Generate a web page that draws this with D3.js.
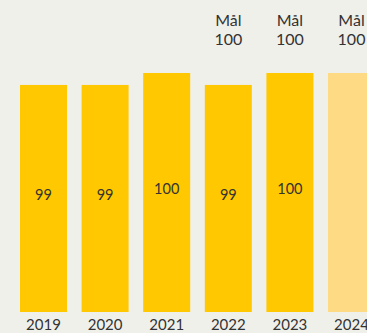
<!DOCTYPE html>
<html>
<head>
<meta charset="utf-8">
<script src="https://cdn.jsdelivr.net/npm/d3@7"></script>
<style>
  html, body { margin: 0; padding: 0; background: #f0f0eb; }
  svg { display: block; }
  text { font-family: Lato, "Open Sans", sans-serif; fill: #333; }
</style>
</head>
<body>
<svg id="chart" width="367" height="333"></svg>
<script>
// Index per year; the last year is the target only
const years = ["2019", "2020", "2021", "2022", "2023", "2024"];
const values = [99, 99, 100, 99, 100, 100];
const isTarget = [false, false, false, false, false, true];
// Target ("Mål") per year, shown above the bar where set
const targets = [null, null, null, 100, 100, 100];
const targetWord = "Mål";

const svg = d3.select("#chart");
const baseY = 312;

const x = d3.scaleBand()
  .domain(years)
  .range([5.4, 389.6])
  .paddingInner(0.237)
  .paddingOuter(0.237);

const y = d3.scaleLinear()
  .domain([80, 100])
  .range([baseY, 73]);

const data = years.map((yr, i) => ({ yr, v: values[i], t: targets[i], target: isTarget[i] }));

// Bars
svg.selectAll("rect.bar")
  .data(data)
  .join("rect")
  .attr("class", "bar")
  .attr("x", d => x(d.yr))
  .attr("y", d => y(d.v))
  .attr("width", x.bandwidth())
  .attr("height", d => baseY - y(d.v))
  .attr("fill", d => d.target ? "#ffda85" : "#ffc800");

// Value labels inside bars
svg.selectAll("text.val")
  .data(data.filter(d => !d.target))
  .join("text")
  .attr("class", "val")
  .attr("x", d => x(d.yr) + x.bandwidth() / 2)
  .attr("y", d => (y(d.v) + baseY) / 2 - 2)
  .attr("text-anchor", "middle")
  .attr("dominant-baseline", "middle")
  .style("font-size", "14.5px")
  .text(d => d.v);

// Target labels above bars
const tg = svg.selectAll("g.tgt")
  .data(data.filter(d => d.t != null))
  .join("g")
  .attr("class", "tgt")
  .attr("transform", d => `translate(${x(d.yr) + x.bandwidth() / 2},0)`);
tg.append("text")
  .attr("y", 26)
  .attr("text-anchor", "middle")
  .style("font-size", "16px")
  .text(targetWord);
tg.append("text")
  .attr("y", 45)
  .attr("text-anchor", "middle")
  .style("font-size", "16px")
  .text(d => d.t);

// Year axis
const axis = svg.append("g")
  .attr("transform", `translate(0,${baseY})`)
  .call(d3.axisBottom(x).tickSize(0).tickPadding(7));
axis.select(".domain").remove();
axis.selectAll("text")
  .style("font-size", "15px")
  .style("font-family", "Lato, 'Open Sans', sans-serif")
  .attr("fill", "#333");
</script>
</body>
</html>
